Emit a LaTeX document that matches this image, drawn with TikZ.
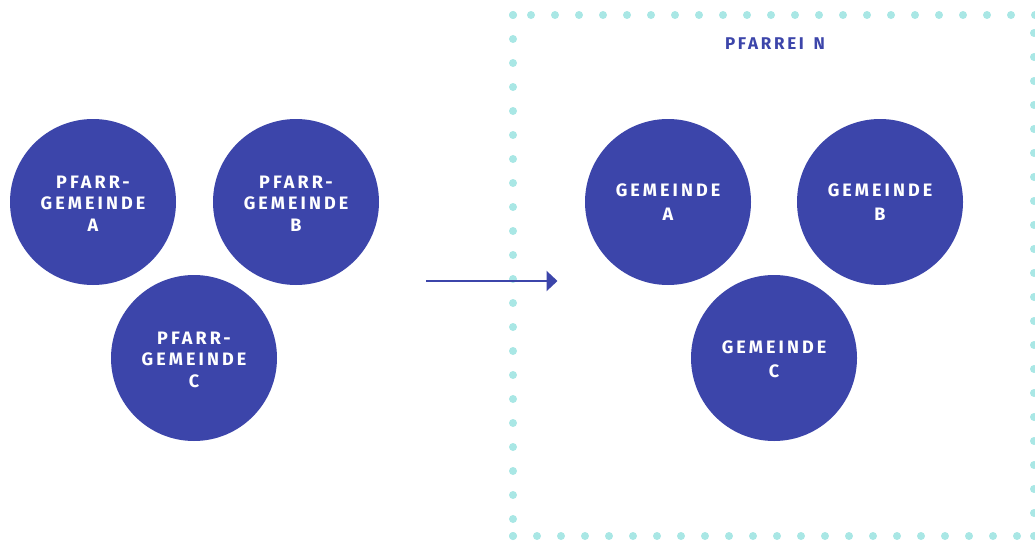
\documentclass[tikz,border=0pt]{standalone}
\usepackage{fontspec}
\setmainfont{Fira Sans}
\newfontfamily\labelfont[LetterSpace=17]{Fira Sans}
\newfontfamily\titlefont[LetterSpace=16]{Fira Sans}
\usetikzlibrary{arrows.meta}
\definecolor{gblue}{HTML}{3C45AA}
\definecolor{gdot}{HTML}{A9E7E5}
\tikzset{
  gem/.style={circle, fill=gblue, minimum size=166pt, inner sep=0pt},
  gtext/.style={text=white, font=\labelfont\bfseries\fontsize{18}{21.5}\selectfont, align=center},
  gtextb/.style={text=white, font=\labelfont\bfseries\fontsize{18}{24}\selectfont, align=center},
  gdotc/.style={fill=gdot},
  conn/.style={draw=gblue, line width=2.2pt, -{Triangle[length=11pt,width=20pt]}}
}
\begin{document}
\begin{tikzpicture}[x=1pt,y=-1pt]
\useasboundingbox (0,0) rectangle (1035,543);
% dotted frame
\foreach \k in {0,...,21} {
  \fill[gdotc] (531+24*\k,15) circle (4);
  \fill[gdotc] (513,15+24*\k) circle (4);
  \fill[gdotc] (513+24*\k,536) circle (4);
}
\fill[gdotc] (513,15) circle (4);
\fill[gdotc] (513,536) circle (4);
\fill[gdotc] (1034,536) circle (4);
\foreach \k in {0,...,20} {
  \fill[gdotc] (1034,33+24*\k) circle (4);
}
% title
\node[text=gblue, font=\titlefont\bfseries\fontsize{17}{20}\selectfont] (title) at (775,44) {PFARREI\hspace{3pt} N};
% left circles
\node[gem] (pa) at (93,202) {};
\node[gem] (pb) at (296,202) {};
\node[gem] (pc) at (194,358) {};
\node[gtext] (pat) at (93,203.5) {PFARR-\\GEMEINDE\\A};
\node[gtext] (pbt) at (296,203.5) {PFARR-\\GEMEINDE\\B};
\node[gtext] (pct) at (194,359.5) {PFARR-\\GEMEINDE\\C};
% right circles
\node[gem] (ga) at (668,202) {};
\node[gem] (gb) at (880,202) {};
\node[gem] (gc) at (774,358) {};
\node[gtextb] (gat) at (668,202) {GEMEINDE\\A};
\node[gtextb] (gbt) at (880,202) {GEMEINDE\\B};
\node[gtextb] (gct) at (774,359) {GEMEINDE\\C};
% arrow
\coordinate (arrS) at (426,281);
\coordinate (arrE) at (557.5,281);
\draw[conn] (arrS) -- (arrE);
\end{tikzpicture}
\end{document}
